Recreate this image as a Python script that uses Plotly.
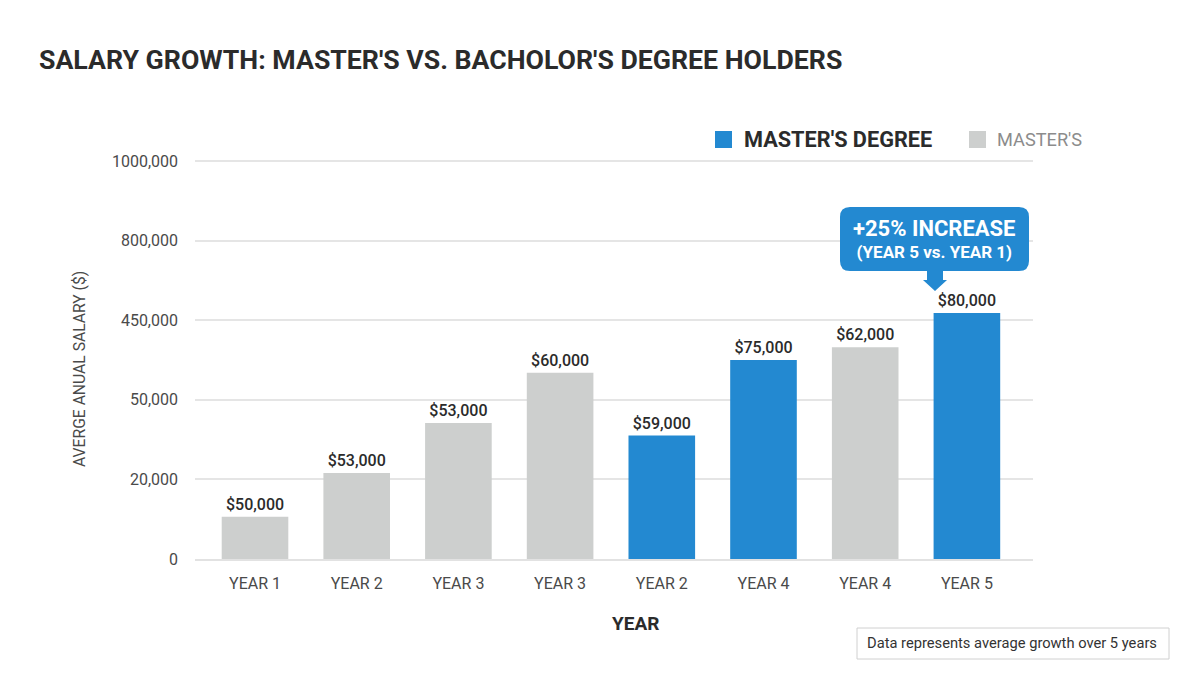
import plotly.graph_objects as go

TITLE = "SALARY GROWTH: MASTER'S VS. BACHOLOR'S DEGREE HOLDERS"
year_labels = ["YEAR 1", "YEAR 2", "YEAR 3", "YEAR 3", "YEAR 2", "YEAR 4", "YEAR 4", "YEAR 5"]
bar_heights = [0.53, 1.08, 1.71, 2.34, 1.55, 2.50, 2.66, 3.09]
value_labels = ["$50,000", "$53,000", "$53,000", "$60,000", "$59,000", "$75,000", "$62,000", "$80,000"]
is_master = [False, False, False, False, True, True, False, True]
tick_labels = ["0", "20,000", "50,000", "450,000", "800,000", "1000,000"]

BLUE = "#2389d1"
GRAY = "#cdcfce"
FONT = "Roboto"
DARK = "#2b2b2b"
MID = "#4a4a4a"
W, H = 1200, 685
L, R, T, B = 195, 167, 157, 126
PW, PH = W - L - R, H - T - B


def px(x):
    return (x - L) / PW


def py(y):
    return (H - B - y) / PH


positions = list(range(len(year_labels)))

# Rounded callout with a stem and arrow head
x0, x1, y0, y1, r = 840, 1029, 207, 271, 10
callout = (
    f"M {px(x0 + r)} {py(y0)} L {px(x1 - r)} {py(y0)} Q {px(x1)} {py(y0)} {px(x1)} {py(y0 + r)} "
    f"L {px(x1)} {py(y1 - r)} Q {px(x1)} {py(y1)} {px(x1 - r)} {py(y1)} "
    f"L {px(943)} {py(y1)} L {px(943)} {py(280)} L {px(947)} {py(280)} L {px(935)} {py(291)} "
    f"L {px(923)} {py(280)} L {px(927)} {py(280)} L {px(927)} {py(y1)} "
    f"L {px(x0 + r)} {py(y1)} Q {px(x0)} {py(y1)} {px(x0)} {py(y1 - r)} "
    f"L {px(x0)} {py(y0 + r)} Q {px(x0)} {py(y0)} {px(x0 + r)} {py(y0)} Z"
)

fig = go.Figure()
fig.add_trace(go.Bar(
    x=positions, y=bar_heights,
    marker=dict(color=[BLUE if m else GRAY for m in is_master], line=dict(width=0)),
    width=0.655,
    text=value_labels, textposition="outside", cliponaxis=False,
    textfont=dict(family=FONT, size=16, color=DARK, weight=500),
    hoverinfo="skip", showlegend=False,
))

fig.update_layout(
    width=W, height=H, autosize=False,
    paper_bgcolor="white", plot_bgcolor="white",
    margin=dict(l=L, r=R, t=T, b=B),
    font=dict(family=FONT, color=MID),
    showlegend=False,
    xaxis=dict(
        range=[-0.59, 7.65], tickmode="array", tickvals=positions, ticktext=year_labels,
        tickfont=dict(family=FONT, size=16, color=MID), ticks="", showgrid=False,
        zeroline=False, showline=True, linecolor="#e2e2e2", linewidth=1.5,
        ticklabelstandoff=9,
    ),
    yaxis=dict(
        range=[0, 5.05], tickmode="array", tickvals=list(range(len(tick_labels))), ticktext=tick_labels,
        tickfont=dict(family=FONT, size=16, color=MID), ticks="",
        gridcolor="#e5e5e5", gridwidth=1.5, zeroline=False, showline=False,
        ticklabelstandoff=16,
    ),
    annotations=[
        dict(xref="paper", yref="paper", x=px(39), y=py(60),
             text=f"<b>{TITLE}</b>", showarrow=False, xanchor="left", yanchor="middle", xshift=-2,
             font=dict(family=FONT, size=26.7, color=DARK)),
        dict(xref="paper", yref="paper", x=px(79), y=py(369),
             text="AVERGE ANUAL SALARY ($)", showarrow=False, textangle=-90, xanchor="center", yanchor="middle",
             font=dict(family=FONT, size=15.7, color=MID)),
        dict(xref="paper", yref="paper", x=px(635), y=py(623),
             text="<b>YEAR</b>", showarrow=False, xanchor="center", yanchor="middle",
             font=dict(family=FONT, size=19, color=DARK)),
        dict(xref="paper", yref="paper", x=px(744), y=py(140),
             text="<b>MASTER'S DEGREE</b>", showarrow=False, xanchor="left", yanchor="middle", xshift=-2,
             font=dict(family=FONT, size=21.7, color=DARK)),
        dict(xref="paper", yref="paper", x=px(997), y=py(140),
             text="MASTER'S", showarrow=False, xanchor="left", yanchor="middle", xshift=-2,
             font=dict(family=FONT, size=18.2, color="#8c8c8c")),
        dict(xref="paper", yref="paper", x=px(934.5), y=py(238.5),
             text="<b><span style='font-size:22px'>+25% INCREASE</span><br>(YEAR 5 vs. YEAR 1)</b>",
             showarrow=False, xanchor="center", yanchor="middle",
             font=dict(family=FONT, size=17, color="white")),
        dict(xref="paper", yref="paper", x=px(1012), y=py(643),
             text="Data represents average growth over 5 years", showarrow=False, xanchor="center", yanchor="middle",
             font=dict(family=FONT, size=14.7, color="#333333")),
    ],
    shapes=[
        dict(type="rect", xref="paper", yref="paper", x0=px(715), x1=px(732), y0=py(148), y1=py(131),
             fillcolor=BLUE, line_width=0),
        dict(type="rect", xref="paper", yref="paper", x0=px(969), x1=px(986), y0=py(148), y1=py(131),
             fillcolor=GRAY, line_width=0),
        dict(type="path", xref="paper", yref="paper", path=callout, fillcolor=BLUE, line_width=0),
        dict(type="rect", xref="paper", yref="paper", x0=px(857), x1=px(1169), y0=py(659), y1=py(628),
             fillcolor="white", line=dict(color="#d0d0d0", width=1)),
    ],
)
fig.write_html("out.html", post_script="document.body.style.margin='0';",
               config={"displayModeBar": False})
